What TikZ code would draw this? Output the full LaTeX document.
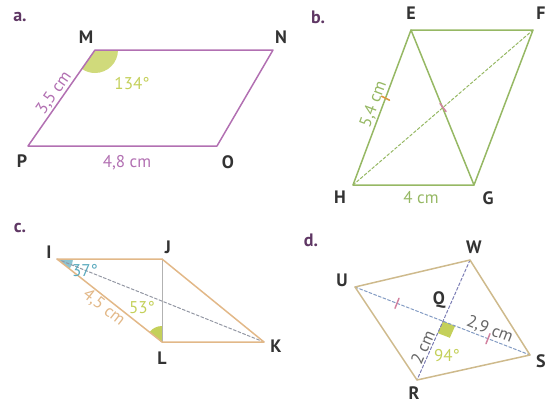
\documentclass[tikz,border=0pt]{standalone}
\usepackage{fontspec}
\setmainfont{PT Sans}
\usetikzlibrary{calc}
\definecolor{plum}{RGB}{178,112,178}
\definecolor{sage}{RGB}{150,184,100}
\definecolor{sand}{RGB}{226,184,136}
\definecolor{khaki}{RGB}{206,186,140}
\definecolor{lime}{RGB}{196,208,90}
\definecolor{sea}{RGB}{90,170,190}
\definecolor{rosy}{RGB}{210,130,160}
\definecolor{ochre}{RGB}{220,150,60}
\definecolor{inkgray}{RGB}{120,125,140}
\definecolor{dusk}{RGB}{100,130,180}
\definecolor{tagpurple}{RGB}{95,55,100}
\tikzset{
  side/.style={line width=1.5pt},
  diag/.style={line width=1pt,dashed,dash pattern=on 3pt off 2pt},
  vtx/.style={font=\bfseries\fontsize{18}{18}\selectfont,text=black!80},
  tag/.style={font=\bfseries\fontsize{18}{18}\selectfont,text=tagpurple},
  measure/.style={font=\fontsize{17}{17}\selectfont,inner sep=1.5pt}
}

\begin{document}
\begin{tikzpicture}[x=1pt,y=-1pt,line cap=round,line join=round]
  \useasboundingbox (0,0) rectangle (547,405);
  % a. parallelogram MNOP
  \begin{scope}
    \coordinate (M) at (95,50); \coordinate (N) at (273,50); \coordinate (O) at (217,146); \coordinate (P) at (28,146);
    \fill[lime!80] (M) -- ++(23,0) arc[start angle=0,end angle=125,radius=23] -- cycle;
    \draw[side,plum] (M) -- (N) -- (O) -- (P) -- cycle;
    \path (P) -- node[sloped,above,measure,text=plum] (lenMP) {3,5 cm} (M);
    \node[measure,text=plum] (lenPO) at (127,163) {4,8 cm};
    \node[measure,text=lime] (angM) at (132,84) {134°};
    \foreach \p/\x/\y in {M/86/37,N/281/37,O/228/162,P/22/161}{\node[vtx] (lab\p) at (\x,\y) {\p};}
    \node[tag] (taga) at (20,17) {a.};
  \end{scope}
  % b. parallelogram EFGH
  \begin{scope}
    \coordinate (E) at (411,30); \coordinate (F) at (533,30); \coordinate (G) at (474,185); \coordinate (H) at (353,185);
    \draw[side,sage] (E) -- (F) -- (G) -- (H) -- cycle;
    \draw[side,sage] (E) -- (G);
    \draw[diag,sage] (H) -- (F);
    \draw[line width=1.5pt,ochre] ($(H)!0.56!(E)+(-4,-2)$) -- ($(H)!0.56!(E)+(4,2)$);
    \draw[line width=1.5pt,rosy] ($(H)!0.5!(F)+(-3,-4)$) -- ($(H)!0.5!(F)+(3,4)$);
    \path (H) -- node[sloped,above,measure,text=sage] (lenHE) {5,4 cm} (E);
    \node[measure,text=sage] (lenHG) at (421,198) {4 cm};
    \foreach \p/\x/\y in {E/411/13,F/541/13,G/488/198,H/340/197}{\node[vtx] (lab\p) at (\x,\y) {\p};}
    \node[tag] (tagb) at (318,17) {b.};
  \end{scope}
  % c. parallelogram IJKL
  \begin{scope}
    \coordinate (I) at (57,259); \coordinate (J) at (162,259); \coordinate (K) at (264,342); \coordinate (L) at (162,342);
    \fill[sea!70] (I) -- ++(16,0) arc[start angle=0,end angle=38.3,radius=16] -- cycle;
    \fill[lime] (L) -- ++(0,-16) arc[start angle=-90,end angle=-141.7,radius=16] -- cycle;
    \draw[line width=1pt,gray!60] (J) -- (L);
    \draw[diag,inkgray!80] (I) -- (K);
    \draw[side,sand] (I) -- (J) -- (K) -- (L) -- cycle;
    \path (I) -- node[sloped,below,measure,text=sand] (lenIL) {4,5 cm} (L);
    \node[measure,text=sea] (angI) at (85,271) {37°};
    \node[measure,text=lime] (angL) at (142,308) {53°};
    \foreach \p/\x/\y in {I/49/252,J/168/247,K/276/346,L/162/358}{\node[vtx] (lab\p) at (\x,\y) {\p};}
    \node[tag] (tagc) at (20,228) {c.};
  \end{scope}
  % d. rhombus UWSR
  \begin{scope}
    \coordinate (U) at (355,287); \coordinate (W) at (470,260); \coordinate (S) at (530,355); \coordinate (R) at (417,380);
    \coordinate (Q) at (intersection of U--S and W--R);
    \fill[lime] (Q) -- ($(Q)!13pt!(S)$) -- ($($(Q)!13pt!(S)$)+($(Q)!13pt!(R)$)-(Q)$) -- ($(Q)!13pt!(R)$) -- cycle;
    \draw[diag,dusk!80] (U) -- (S);
    \draw[diag,dusk!70!plum] (W) -- (R);
    \draw[side,khaki] (U) -- (W) -- (S) -- (R) -- cycle;
    \draw[line width=1.5pt,rosy] ($(U)!0.24!(S)+(-2,5)$) -- ($(U)!0.24!(S)+(2,-5)$);
    \draw[line width=1.5pt,rosy] ($(U)!0.76!(S)+(-2,5)$) -- ($(U)!0.76!(S)+(2,-5)$);
    \path (Q) -- node[sloped,above,measure,text=black!60] (lenQS) {2,9 cm} (S);
    \path (R) -- node[sloped,above,measure,text=black!60] (lenRQ) {2 cm} (Q);
    \node[measure,text=lime] (angQ) at (447,356) {94°};
    \foreach \p/\x/\y in {U/342/280,W/474/247,S/541/361,R/414/393,Q/439/300}{\node[vtx] (lab\p) at (\x,\y) {\p};}
    \node[tag] (tagd) at (311,240) {d.};
  \end{scope}
\end{tikzpicture}
\end{document}
